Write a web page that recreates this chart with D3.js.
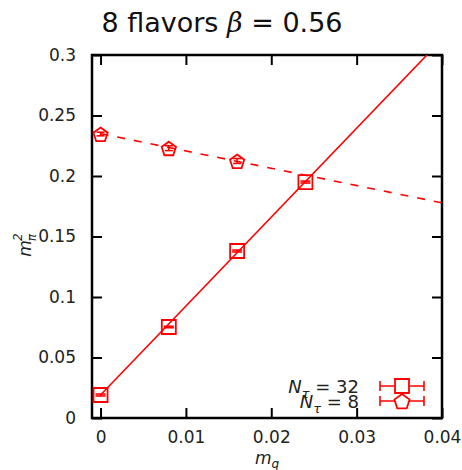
<!DOCTYPE html>
<html>
<head>
<meta charset="utf-8">
<script src="https://cdn.jsdelivr.net/npm/d3@7"></script>
<style>
  body { margin: 0; background: #fff; }
  svg { display: block; font-family: "DejaVu Sans", sans-serif; }
</style>
</head>
<body>
<svg id="chart" width="462" height="470"></svg>
<script>
// m_q values and pion mass squared for each temporal extent
const mq32 = [0, 0.008, 0.016, 0.024];
const mpi32 = [0.019, 0.0752, 0.138, 0.195];
const err32 = [0.0008, 0.0006, 0.0008, 0.0008];

const mq8 = [0, 0.008, 0.016];
const mpi8 = [0.2347, 0.223, 0.2124];
const err8 = [0.0015, 0.002, 0.002];

// linear fits: [intercept, slope]
const fit32 = [0.019, 7.35];
const fit8 = [0.235, -1.43];

const xTicks = [0, 0.01, 0.02, 0.03, 0.04];
const yTicks = [0, 0.05, 0.1, 0.15, 0.2, 0.25, 0.3];
const legendLabels = ["32", "8"];

const svg = d3.select("#chart");
const pL = 92, pR = 442, pT = 55, pB = 418;
const red = "#ff0000";

const x = d3.scaleLinear().domain([-0.001, 0.04]).range([pL, pR]);
const y = d3.scaleLinear().domain([0, 0.3]).range([pB, pT]);

// title
const title = svg.append("text")
  .attr("x", 222).attr("y", 32)
  .attr("text-anchor", "middle")
  .attr("font-size", 27)
  .attr("fill", "#111");
title.append("tspan").text("8 flavors ");
title.append("tspan").attr("font-style", "italic").attr("font-family", "DejaVu Serif, serif").text("β");
title.append("tspan").text(" = 0.56");

// axes with inward ticks
const fmt = d => d3.format("")(+d.toFixed(3));
const xAxisB = d3.axisBottom(x).tickValues(xTicks).tickSizeInner(-10).tickSizeOuter(0).tickPadding(10).tickFormat(fmt);
const xAxisT = d3.axisTop(x).tickValues(xTicks).tickSizeInner(-10).tickSizeOuter(0).tickFormat("");
const yAxisL = d3.axisLeft(y).tickValues(yTicks).tickSizeInner(-10).tickSizeOuter(0).tickPadding(16).tickFormat(fmt);
const yAxisR = d3.axisRight(y).tickValues(yTicks).tickSizeInner(-10).tickSizeOuter(0).tickFormat("");

function styleAxis(g) {
  g.select(".domain").remove();
  g.selectAll(".tick line").attr("stroke", "#000").attr("stroke-width", 2);
  g.selectAll(".tick text").attr("font-size", 17).attr("fill", "#222").attr("font-family", "DejaVu Sans, sans-serif");
}
svg.append("g").attr("transform", `translate(0,${pB})`).call(xAxisB).call(styleAxis)
  .selectAll(".tick text").attr("dy", "0.9em");
svg.append("g").attr("transform", `translate(0,${pT})`).call(xAxisT).call(styleAxis);
svg.append("g").attr("transform", `translate(${pL},0)`).call(yAxisL).call(styleAxis);
svg.append("g").attr("transform", `translate(${pR},0)`).call(yAxisR).call(styleAxis);

// frame
svg.append("rect").attr("x", pL).attr("y", pT).attr("width", pR - pL).attr("height", pB - pT)
  .attr("fill", "none").attr("stroke", "#000").attr("stroke-width", 2.5);

// axis labels
const xl = svg.append("text").attr("x", 267).attr("y", 464).attr("text-anchor", "middle")
  .attr("font-size", 17).attr("font-style", "italic").attr("fill", "#222");
xl.append("tspan").text("m");
xl.append("tspan").attr("font-size", 12).attr("dy", 4).text("q");

const yl = svg.append("text").attr("transform", "translate(31,245) rotate(-90)").attr("text-anchor", "middle")
  .attr("font-size", 17).attr("font-style", "italic").attr("fill", "#222");
yl.append("tspan").text("m");
yl.append("tspan").attr("font-size", 12).attr("dy", 5).attr("dx", -1).text("π");
yl.append("tspan").attr("font-size", 12).attr("dy", -14).attr("dx", -7).text("2");

const plot = svg.append("g");
plot.append("clipPath").attr("id", "clip").append("rect")
  .attr("x", pL).attr("y", pT).attr("width", pR - pL).attr("height", pB - pT);

// fit lines
const line = d3.line().x(d => x(d[0])).y(d => y(d[1]));
const fitLine = (f, x0, x1) => [[x0, f[0] + f[1] * x0], [x1, f[0] + f[1] * x1]];
plot.append("path").attr("clip-path", "url(#clip)")
  .attr("d", line(fitLine(fit32, 0, 0.04)))
  .attr("stroke", red).attr("stroke-width", 1.6).attr("fill", "none");
plot.append("path").attr("clip-path", "url(#clip)")
  .attr("d", line(fitLine(fit8, 0, 0.04)))
  .attr("stroke", red).attr("stroke-width", 1.6).attr("fill", "none").attr("stroke-dasharray", "8,9");

// markers
const sq = d3.symbol().type(d3.symbolSquare).size(196);
function pentagon(r) {
  const pts = d3.range(5).map(i => {
    const a = -Math.PI / 2 + i * 2 * Math.PI / 5;
    return [r * Math.cos(a), r * Math.sin(a) + 1];
  });
  return "M" + pts.join("L") + "Z";
}
function errBar(g, cx, cy, ey, cap) {
  g.append("line").attr("x1", cx).attr("x2", cx).attr("y1", cy - ey).attr("y2", cy + ey)
    .attr("stroke", red).attr("stroke-width", 1.6);
  g.append("line").attr("x1", cx - cap).attr("x2", cx + cap).attr("y1", cy - ey).attr("y2", cy - ey)
    .attr("stroke", red).attr("stroke-width", 1.6);
  g.append("line").attr("x1", cx - cap).attr("x2", cx + cap).attr("y1", cy + ey).attr("y2", cy + ey)
    .attr("stroke", red).attr("stroke-width", 1.6);
}

mq32.forEach((m, i) => {
  const g = plot.append("g");
  errBar(g, x(m), y(mpi32[i]), y(0) - y(err32[i]), 5);
  g.append("path").attr("d", sq()).attr("transform", `translate(${x(m)},${y(mpi32[i])})`)
    .attr("fill", "none").attr("stroke", red).attr("stroke-width", 1.8);
});
mq8.forEach((m, i) => {
  const g = plot.append("g");
  errBar(g, x(m), y(mpi8[i]), y(0) - y(err8[i]), 4);
  g.append("path").attr("d", pentagon(7.5)).attr("transform", `translate(${x(m)},${y(mpi8[i])})`)
    .attr("fill", "none").attr("stroke", red).attr("stroke-width", 1.8);
});

// legend (entries sit close together, as produced by the plotting tool)
const legY = [386, 401];
legendLabels.forEach((lab, i) => {
  const t = svg.append("text").attr("x", 359).attr("y", legY[i] + 7).attr("text-anchor", "end")
    .attr("font-size", 18).attr("fill", "#222");
  t.append("tspan").attr("font-style", "italic").text("N");
  t.append("tspan").attr("font-size", 13).attr("dy", 5).attr("font-style", "italic").text("τ");
  t.append("tspan").attr("dy", -5).text(" = " + lab);
  const g = svg.append("g");
  g.append("line").attr("x1", 380).attr("x2", 424).attr("y1", legY[i]).attr("y2", legY[i])
    .attr("stroke", red).attr("stroke-width", 1.6);
  [380, 424].forEach(cx => g.append("line").attr("x1", cx).attr("x2", cx)
    .attr("y1", legY[i] - 5).attr("y2", legY[i] + 5).attr("stroke", red).attr("stroke-width", 1.6));
  if (i === 0) {
    g.append("path").attr("d", sq()).attr("transform", `translate(402,${legY[i]})`)
      .attr("fill", "#fff").attr("stroke", red).attr("stroke-width", 1.8);
  } else {
    g.append("path").attr("d", pentagon(8)).attr("transform", `translate(402,${legY[i]})`)
      .attr("fill", "#fff").attr("stroke", red).attr("stroke-width", 1.8);
  }
});
</script>
</body>
</html>
